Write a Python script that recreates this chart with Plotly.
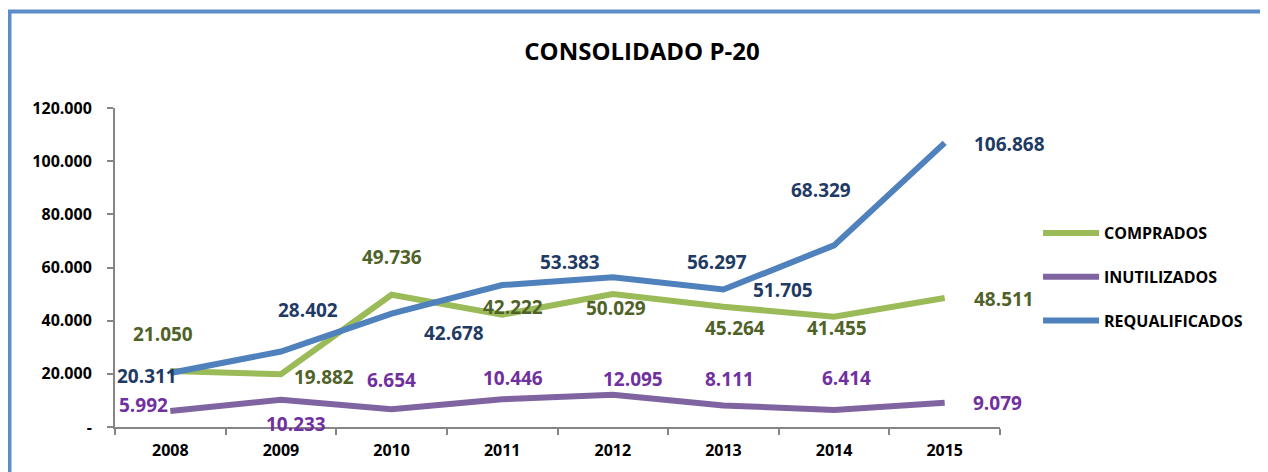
import plotly.graph_objects as go

years = ["2008", "2009", "2010", "2011", "2012", "2013", "2014", "2015"]
comprados = [21050, 19882, 49736, 42222, 50029, 45264, 41455, 48511]
inutilizados = [5992, 10233, 6654, 10446, 12095, 8111, 6414, 9079]
requalificados = [20311, 28402, 42678, 53383, 56297, 51705, 68329, 106868]

y_tickvals = [0, 20000, 40000, 60000, 80000, 100000, 120000]
y_ticktext = ["-", "20.000", "40.000", "60.000", "80.000", "100.000", "120.000"]

series = [
    ("COMPRADOS", comprados, "#9BBB59", "#4F6228",
     [(-7, -37), (43, 3), (0, -38), (11, -8), (3, 14), (12, 21), (3, 11), (59, 1)]),
    ("INUTILIZADOS", inutilizados, "#8064A2", "#7030A0",
     [(-27, -6), (15, 24), (0, -29), (11, -21), (20, -16), (6, -26), (12, -32), (53, 0)]),
    ("REQUALIFICADOS", requalificados, "#4F81BD", "#1F3B64",
     [(-23, 3), (27, -42), (62, 19), (68, -23), (104, -15), (60, 0), (-13, -55), (65, 1)]),
]

def fmt(v):
    return f"{v:,}".replace(",", ".")

FONT = "Open Sans"
W, H = 1260, 464
L, R, T, B = 107, 268, 100, 45
PW, PH = W - L - R, H - T - B

fig = go.Figure()
annotations = []
for name, vals, color, lcolor, offs in series:
    fig.add_trace(go.Scatter(
        x=years, y=vals, name=name, mode="lines",
        line=dict(color=color, width=6), legendgroup=name,
        hoverinfo="x+y"))
    for i, (v, (dx, dy)) in enumerate(zip(vals, offs)):
        annotations.append(dict(
            x=i, y=v, xref="x", yref="y", text=fmt(v), showarrow=False,
            xshift=dx, yshift=-dy, xanchor="center", yanchor="middle",
            font=dict(family=FONT, size=19, color=lcolor, weight=700)))

fig.update_layout(
    width=W, height=H,
    margin=dict(l=L, r=R, t=T, b=B),
    paper_bgcolor="white", plot_bgcolor="white",
    title=dict(text="CONSOLIDADO P-20", x=634 / W, xref="container",
               y=1 - 44 / H, yref="container", xanchor="center", yanchor="middle",
               font=dict(family=FONT, size=24, color="black", weight=700)),
    showlegend=True,
    legend=dict(x=1.043, y=(PH + T - 269) / PH, xanchor="left", yanchor="middle",
                font=dict(family=FONT, size=16, color="black", weight=700),
                tracegroupgap=20, itemwidth=56, bgcolor="rgba(0,0,0,0)"),
    annotations=annotations,
    shapes=[dict(type="rect", xref="paper", yref="paper",
                 x0=(1.5 - L) / PW, x1=(W + 20 - L) / PW,
                 y0=(PH + T - (H + 20)) / PH, y1=(PH + T - 3.5) / PH,
                 line=dict(color="#5B8DC9", width=4), layer="below")],
)
fig.update_xaxes(
    type="category", range=[-0.5, 7.5], showgrid=False,
    showline=True, linecolor="#868686", linewidth=2,
    ticks="outside", tickson="boundaries", ticklen=6, tickcolor="#868686", tickwidth=1.5,
    ticklabelstandoff=8,
    tickfont=dict(family=FONT, size=16, color="black", weight=700))
fig.update_yaxes(
    range=[0, 120000], showgrid=False, zeroline=False,
    showline=True, linecolor="#868686", linewidth=2,
    tickvals=y_tickvals, ticktext=y_ticktext,
    ticks="outside", ticklen=6, tickcolor="#868686", tickwidth=1.5,
    ticklabelstandoff=12,
    tickfont=dict(family=FONT, size=16, color="black", weight=700))

fig.write_html("out.html")
